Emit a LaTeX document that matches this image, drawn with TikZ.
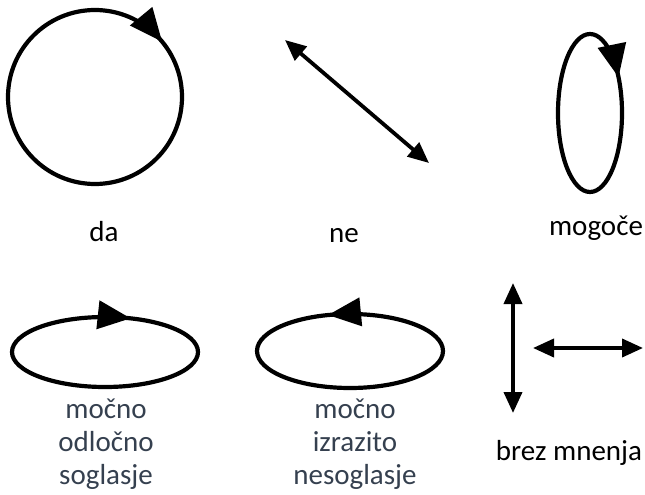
\documentclass[tikz,border=0pt]{standalone}
\usepackage{fontspec}
\setmainfont{Carlito}
\usepackage{tikz}
\usetikzlibrary{arrows.meta,decorations.markings}
\definecolor{labelblue}{HTML}{35404F}

\begin{document}
\begin{tikzpicture}[
  x=1pt, y=-1pt,
  loop/.style={line width=4.2pt},
  cw/.style={loop, postaction={decorate}, decoration={markings,
     mark=at position #1 with {\arrowreversed{Triangle[length=33pt,width=28pt]}}}},
  ccw/.style={loop, postaction={decorate}, decoration={markings,
     mark=at position #1 with {\arrow{Triangle[length=33pt,width=28pt]}}}},
  dbl/.style={{Triangle[length=21pt,width=18pt]}-{Triangle[length=21pt,width=18pt]},
              line width=3.8pt},
  lbl/.style={font=\fontsize{29}{33}\selectfont, anchor=base, inner sep=0pt},
  stack/.style={lbl, align=center, text=labelblue}
]
\useasboundingbox (0,0) rectangle (645,495);
\draw[cw=60pt]  (95,97)   circle[radius=87pt];
\draw[cw=36pt]  (590,113) circle[x radius=32pt, y radius=79pt];
\draw[cw=80pt]  (105,352) circle[x radius=93pt, y radius=35pt];
\draw[ccw=129pt] (350,351) circle[x radius=93pt, y radius=37pt];
\coordinate (ne-a) at (285,40);  \coordinate (ne-b) at (429,163);
\coordinate (up)   at (513,283); \coordinate (down) at (513,413);
\coordinate (left) at (533,348); \coordinate (right) at (643,348);
\draw[dbl] (ne-a)--(ne-b);
\draw[dbl] (up)--(down);
\draw[dbl] (left)--(right);
\node[lbl] (da)     at (104,241) {da};
\node[lbl] (ne)     at (344,242) {ne};
\node[lbl] (mogoce) at (596,235) {mogoče};
\node[lbl] (brez)   at (569,460) {brez mnenja};
\node[stack] (soglasje)   at (106,484) {močno\\odločno\\soglasje};
\node[stack] (nesoglasje) at (355,484) {močno\\izrazito\\nesoglasje};
\end{tikzpicture}
\end{document}
